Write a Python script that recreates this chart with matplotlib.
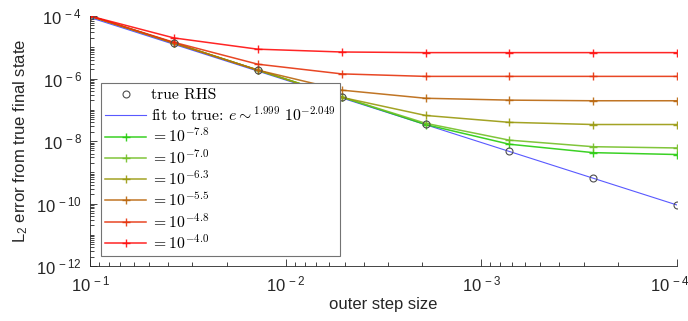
import numpy as np
import matplotlib
matplotlib.use("Agg")
import matplotlib.pyplot as plt
from matplotlib.ticker import LogLocator, FixedLocator, FixedFormatter
from matplotlib.transforms import ScaledTranslation

plt.rcParams['mathtext.fontset'] = 'cm'

# outer step sizes
h = [1e-1, 3.73e-2, 1.39e-2, 5.18e-3, 1.93e-3, 7.20e-4, 2.68e-4, 1e-4]

# log10 of error, true RHS
true_err = [-4.00, -4.86, -5.73, -6.59, -7.46, -8.32, -9.18, -10.05]
fit_p = 1.999
fit_c = -2.049

# log10 of error for each inner tolerance
tol_labels = ['-7.8', '-7.0', '-6.3', '-5.5', '-4.8', '-4.0']
tol_err = [
    [-4.00, -4.86, -5.73, -6.59, -7.47, -8.10, -8.37, -8.43],
    [-4.00, -4.86, -5.73, -6.59, -7.43, -7.97, -8.18, -8.22],
    [-4.00, -4.86, -5.73, -6.60, -7.18, -7.40, -7.47, -7.47],
    [-4.00, -4.87, -5.73, -6.37, -6.63, -6.69, -6.71, -6.71],
    [-4.00, -4.84, -5.54, -5.85, -5.93, -5.93, -5.93, -5.93],
    [-4.00, -4.70, -5.06, -5.15, -5.17, -5.17, -5.17, -5.17],
]
tol_colors = [(0.15, 0.8, 0.05), (0.45, 0.75, 0.15), (0.6, 0.6, 0.05),
              (0.73, 0.4, 0.05), (0.9, 0.2, 0.05), (1.0, 0.05, 0.05)]

fig = plt.figure(figsize=(6.88, 3.21), dpi=100)
ax = fig.add_axes([0.131, 0.171, 0.853, 0.779])

hh = np.array(h)
ax.plot(h, 10 ** np.array(true_err), 'o', mfc='none', mec=(0.3, 0.3, 0.3),
        ms=5, mew=0.8, label='true RHS', zorder=5)
ax.plot(h, hh ** fit_p * 10 ** fit_c, '-', color=(0.35, 0.35, 1.0), lw=0.8,
        label=r'fit to true: $e \sim^{%.3f}\ 10^{%.3f}$' % (fit_p, fit_c))
for lab, err, c in zip(tol_labels, tol_err, tol_colors):
    ax.plot(h, 10 ** np.array(err), '-', marker='+', ms=6, mew=1.0, color=c,
            lw=1.1, alpha=0.9, label=r'$= 10^{%s}$' % lab)

ax.set_xscale('log')
ax.set_yscale('log')
ax.set_xlim(1e-1, 1e-4)
ax.set_ylim(1e-12, 1e-4)

for s in ['top', 'right']:
    ax.spines[s].set_visible(False)
for s in ['left', 'bottom']:
    ax.spines[s].set_color((0.15, 0.15, 0.15))
    ax.spines[s].set_linewidth(0.6)

xt = [1e-1, 1e-2, 1e-3, 1e-4]
yt = [1e-12, 1e-10, 1e-8, 1e-6, 1e-4]
ax.xaxis.set_major_locator(FixedLocator(xt))
ax.xaxis.set_major_formatter(FixedFormatter([r'$\mathregular{10^{\,-%d}}$' % k for k in [1, 2, 3, 4]]))
ax.yaxis.set_major_locator(FixedLocator(yt))
ax.yaxis.set_major_formatter(FixedFormatter([r'$\mathregular{10^{\,-%d}}$' % k for k in [12, 10, 8, 6, 4]]))
ax.xaxis.set_minor_locator(LogLocator(base=10, subs=np.arange(2, 10), numticks=20))
ax.yaxis.set_minor_locator(LogLocator(base=10, subs=np.arange(1, 10), numticks=20))
ax.yaxis.set_minor_formatter(FixedFormatter([]))
ax.xaxis.set_minor_formatter(FixedFormatter([]))
ax.tick_params(which='both', direction='in', color=(0.15, 0.15, 0.15), width=0.6)
ax.tick_params(which='major', length=5, labelsize=12, pad=6)
ax.tick_params(which='minor', length=3)
for t in ax.get_xticklabels() + ax.get_yticklabels():
    t.set_family('Liberation Sans')
    t.set_color((0.15, 0.15, 0.15))
# keep the last x label inside the figure
last = ax.get_xticklabels()[-1]
last.set_transform(last.get_transform() + ScaledTranslation(-5 / 72, 0, fig.dpi_scale_trans))

ax.set_xlabel('outer step size', family='Liberation Sans', fontsize=12, labelpad=2,
              color=(0.15, 0.15, 0.15))
ax.set_ylabel(r'$\mathregular{L_2}$ error from true final state', family='Liberation Sans',
              fontsize=12, labelpad=4, color=(0.15, 0.15, 0.15))

leg = ax.legend(loc='lower left', bbox_to_anchor=(0.01, 0.02),
                prop={'family': 'cmr10', 'size': 11.3}, frameon=True, fancybox=False,
                edgecolor=(0.45, 0.45, 0.45), framealpha=1, borderpad=0.3,
                labelspacing=0.2, handlelength=2.6, handletextpad=0.3,
                borderaxespad=0.3)
leg.get_frame().set_linewidth(0.8)

fig.savefig('out.png', dpi=100)
